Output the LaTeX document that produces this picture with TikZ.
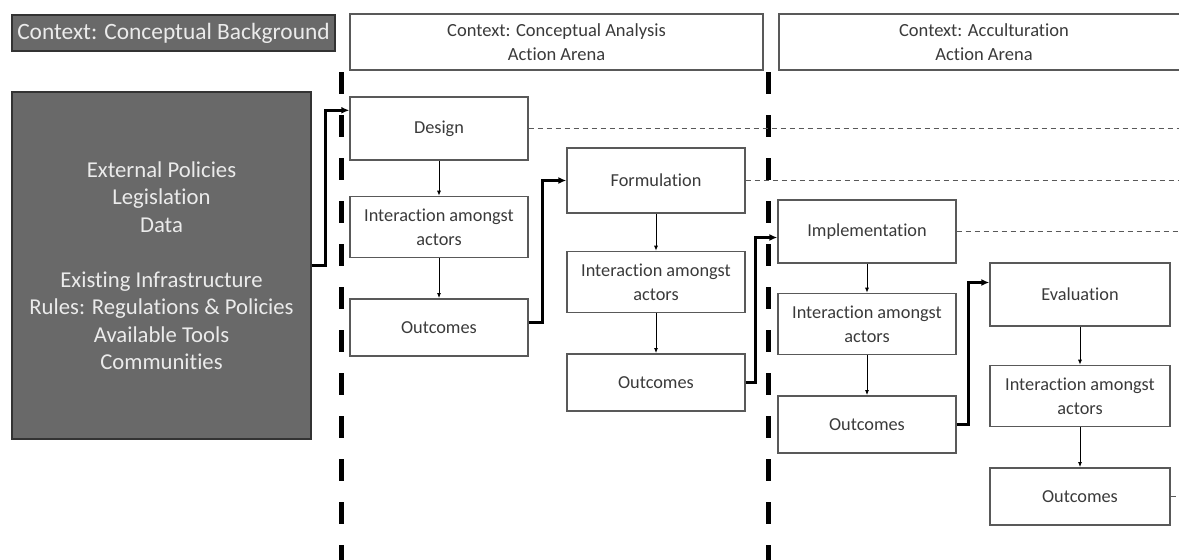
\documentclass[tikz,border=0pt]{standalone}
\usepackage{fontspec}
\setmainfont{Carlito}[Ligatures=NoCommon]
\usepackage{xcolor}
\usetikzlibrary{arrows.meta,positioning}
\definecolor{boxline}{HTML}{595959}
\definecolor{ink}{HTML}{3A3A3A}
\definecolor{slate}{HTML}{696969}
\begin{document}
\begin{tikzpicture}[
    x=1pt, y=-1pt,
    font=\fontsize{18.3}{24}\selectfont,
    box/.style={draw=boxline, line width=1.4pt, text=ink, minimum width=178pt, minimum height=61pt, align=center, inner sep=0pt},
    head/.style={box, minimum width=413pt, minimum height=56pt, font=\fontsize{18.5}{24}\selectfont},
    dark/.style={draw=black!80, line width=1.4pt, fill=slate, text=black!8, align=center, inner sep=0pt},
    link/.style={-{Latex[length=5pt,width=4pt]}, line width=0.9pt},
    flow/.style={-{Latex[length=8pt,width=7pt]}, line width=2.6pt},
    split/.style={line width=5pt, dash pattern=on 22pt off 21pt},
    trace/.style={draw=boxline, line width=1pt, dash pattern=on 5pt off 4pt}
]
\clip[use as bounding box] (0,0) rectangle (1179,560);

\node[dark, minimum width=323pt, minimum height=36pt, font=\fontsize{23.4}{28}\selectfont] (bg) at (173.5,33) {Context: Conceptual Background};
\node[head] (arena1) at (556.5,42) {Context: Conceptual Analysis\\Action Arena};
\node[head, minimum width=410pt] (arena2) at (984,42) {Context: Acculturation\\Action Arena};
\node[dark, minimum width=299pt, minimum height=347pt, font=\fontsize{22.7}{27.5}\selectfont] (ctx) at (161.5,265.5) {External Policies\\Legislation\\Data\\[27.5pt]Existing Infrastructure\\Rules: Regulations \& Policies\\Available Tools\\Communities};

\coordinate (cut1) at (341,72);
\coordinate (cut1end) at (341,560);
\coordinate (cut2) at (768,72);
\coordinate (cut2end) at (768,560);
\coordinate (rim) at (1179,0);

\node[box, minimum height=63pt] (design) at (439,128.5) {Design};
\node[box, below=35pt of design] (inter1) {Interaction amongst\\actors};
\node[box, minimum height=57pt, below=40pt of inter1] (outc1) {Outcomes};

\node[box, minimum height=65pt] (form) at (656,180.5) {Formulation};
\node[box, below=37pt of form] (inter2) {Interaction amongst\\actors};
\node[box, minimum height=57pt, below=40pt of inter2] (outc2) {Outcomes};

\node[box, minimum height=63pt] (impl) at (867,231.5) {Implementation};
\node[box, below=29pt of impl] (inter3) {Interaction amongst\\actors};
\node[box, minimum height=57pt, below=40pt of inter3] (outc3) {Outcomes};

\node[box, minimum width=180pt, minimum height=63pt] (eval) at (1080,294.5) {Evaluation};
\node[box, minimum width=180pt, below=38pt of eval] (inter4) {Interaction amongst\\actors};
\node[box, minimum width=180pt, minimum height=57pt, below=40pt of inter4] (outc4) {Outcomes};

\draw[split] (cut1) -- (cut1end);
\draw[split] (cut2) -- (cut2end);

\draw[trace] (design.east) -- (design.east -| rim);
\draw[trace] (form.east) -- (form.east -| rim);
\draw[trace] (impl.east) -- (impl.east -| rim);
\draw[trace] (outc4.east) -- (outc4.east -| rim);

\draw[link] (design) -- (inter1);
\draw[link] (inter1) -- (outc1);
\draw[link] (form) -- (inter2);
\draw[link] (inter2) -- (outc2);
\draw[link] (impl) -- (inter3);
\draw[link] (inter3) -- (outc3);
\draw[link] (eval) -- (inter4);
\draw[link] (inter4) -- (outc4);

\draw[flow] (ctx.east) -- ++(14,0) |- ([yshift=-14pt]design.north west);
\draw[flow] ([yshift=5pt]outc1.east) -- ++(14,0) |- (form.west);
\draw[flow] (outc2.east) -- ++(10,0) |- ([yshift=-6pt]impl.west);
\draw[flow] (outc3.east) -- ++(12,0) |- ([yshift=12pt]eval.west);
\end{tikzpicture}
\end{document}
